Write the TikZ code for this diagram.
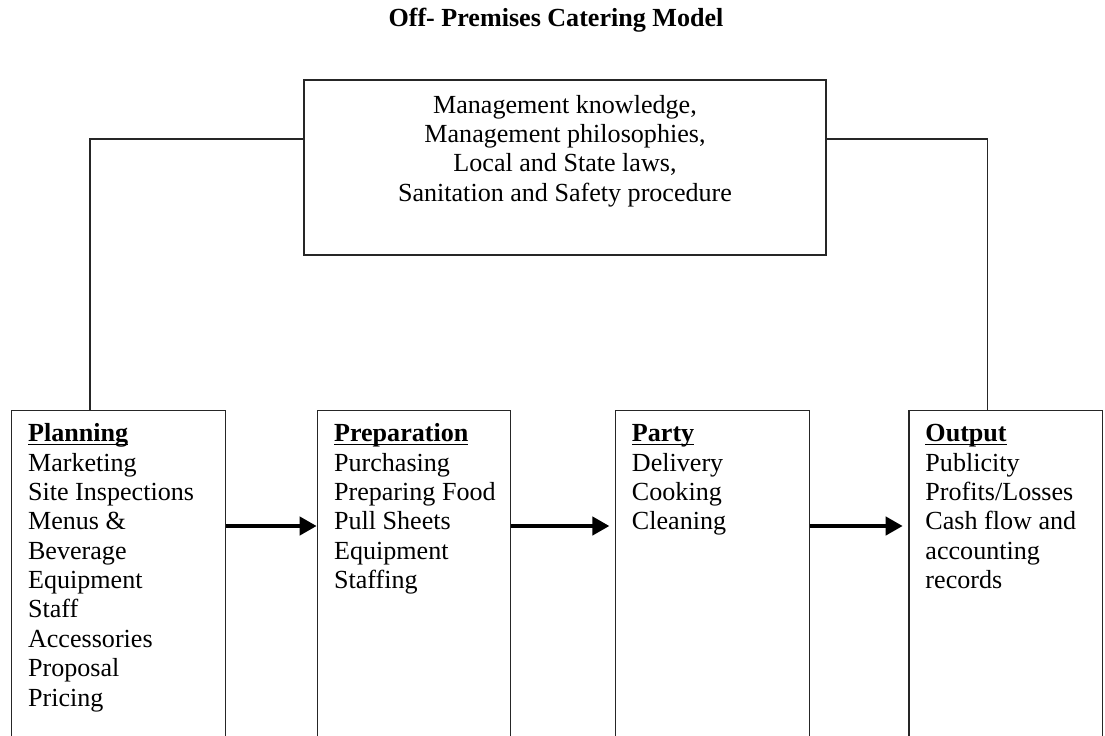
\documentclass[tikz,border=0pt]{standalone}
\usepackage{fontspec}
\setmainfont{Liberation Serif}
\usepackage{tikz}
\usetikzlibrary{calc}
\usetikzlibrary{fit}
\usetikzlibrary{arrows.meta}
\newcommand{\stagehead}[1]{\setbox0=\hbox{\bfseries #1\vphantom{Pl}}\rlap{\rule[-1.5pt]{\wd0}{0.6pt}}\box0}
\tikzset{
    stagebox/.style  = {draw=black!85, line width=0.6pt, inner sep=0pt},
    stagetext/.style = {inner sep=0pt, align=left, anchor=north west, font=\fontsize{12}{13.5}\selectfont},
    flowarrow/.style = {line width=1.8pt, -{Triangle[length=7.8pt, width=8.3pt]}, shorten >=2.6pt},
    link/.style      = {draw=black!85, line width=0.6pt},
}

\begin{document}
\begin{tikzpicture}[x=0.46pt, y=-0.46pt]
            % Frame to fix the page:
            \useasboundingbox (0,0) rectangle (1105,736);
            \clip             (0,0) rectangle (1105,736);
            \coordinate (linkrow)   at (0,139);
            \coordinate (flowrow)   at (0,526);
            \coordinate (leftdrop)  at (90,0);
            \coordinate (rightdrop) at (987.7,0);

            \node[anchor=base, inner sep=0pt, font=\fontsize{12}{13.5}\selectfont\bfseries] (title) at (556,26.7)
                 {Off- Premises Catering Model};

            % Top box:
            \node[stagebox, fit={(304,80) (826,255)}] (inputs) {};
            \node[stagetext, anchor=north, align=center] (inputstext) at ([shift={(0,15.2)}]inputs.north)
                 {Management knowledge,\\Management philosophies,\\Local and State laws,\\Sanitation and Safety procedure};

            % Stage boxes (running past the bottom edge):
            \node[stagebox, fit={(11.3,410.7)  (225.7,760)}]  (planning)    {};
            \node[stagebox, fit={(317.3,410.7) (510.7,760)}]  (preparation) {};
            \node[stagebox, fit={(615.7,410.7) (809.3,760)}]  (party)       {};
            \node[stagebox, fit={(909,410.7)   (1102.7,760)}] (output)      {};

            \node[stagetext] (planningtext) at ([shift={(17,13.3)}]planning.north west)
                 {\stagehead{Planning}\\Marketing\\Site Inspections\\Menus \&\\Beverage\\Equipment\\Staff\\Accessories\\Proposal\\Pricing};
            \node[stagetext] (preparationtext) at ([shift={(17,13.3)}]preparation.north west)
                 {\stagehead{Preparation}\\Purchasing\\Preparing Food\\Pull Sheets\\Equipment\\Staffing};
            \node[stagetext] (partytext) at ([shift={(16.5,13.3)}]party.north west)
                 {\stagehead{Party}\\Delivery\\Cooking\\Cleaning};
            \node[stagetext] (outputtext) at ([shift={(16.7,13.3)}]output.north west)
                 {\stagehead{Output}\\Publicity\\Profits/Losses\\Cash flow and\\accounting\\records};

            % Links from the top box:
            \draw[link] (inputs.west |- linkrow) -| (leftdrop |- planning.north);
            \draw[link] (inputs.east |- linkrow) -| (rightdrop |- output.north);

            % Flow arrows:
            \draw[flowarrow, shorten >=0pt] (planning.east |- flowrow) -- (preparation.west |- flowrow);
            \draw[flowarrow] (preparation.east |- flowrow) -- (party.west |- flowrow);
            \draw[flowarrow] (party.east |- flowrow)       -- (output.west |- flowrow);
\end{tikzpicture}
\end{document}
